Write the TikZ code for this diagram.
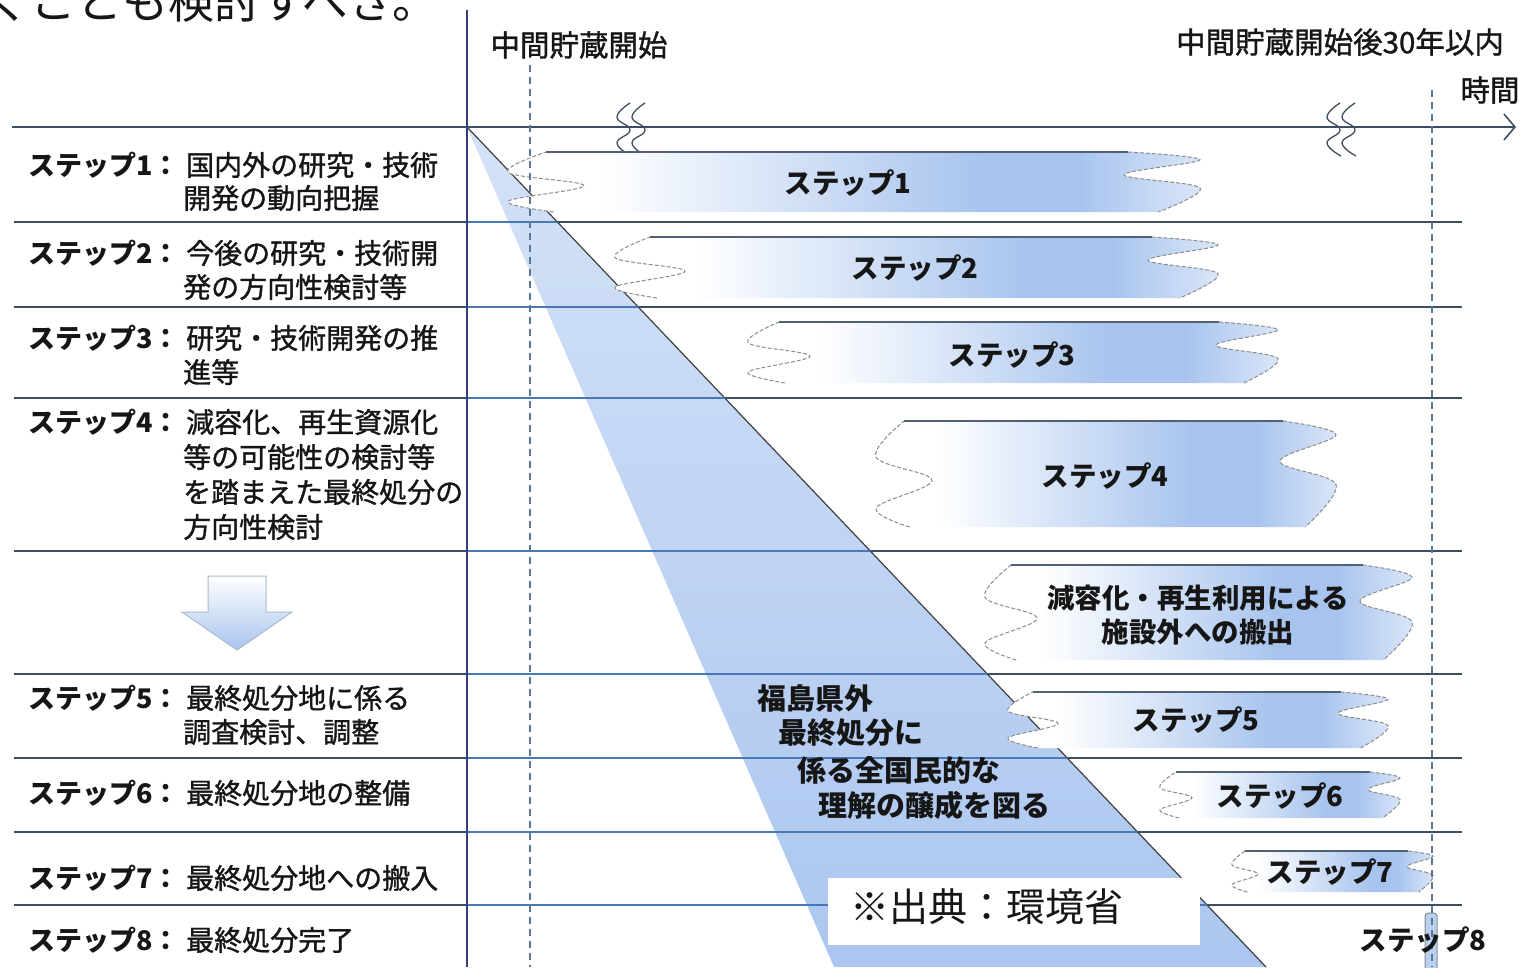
\documentclass[tikz,border=0pt]{standalone}
\usepackage{fontspec}
\newfontfamily\jp{Noto Sans CJK JP}
\newfontfamily\jpm{Noto Sans CJK JP}[FakeBold=1.2]
\usetikzlibrary{arrows.meta}
\definecolor{linec}{HTML}{3E4E62}
\definecolor{blueline}{HTML}{4A78B4}
\definecolor{dashc}{HTML}{5A7596}
\definecolor{barblue}{HTML}{A8C4EE}
\definecolor{barlite}{HTML}{DCE7F9}
\definecolor{tritop}{HTML}{D4E2F8}
\definecolor{tribot}{HTML}{ABC6EF}
\definecolor{txt}{HTML}{161616}
\pgfdeclarehorizontalshading{barshade}{100bp}{color(0bp)=(white); color(25bp)=(white); color(32bp)=(white); color(59bp)=(barblue); color(66bp)=(barblue); color(75bp)=(barlite); color(100bp)=(barlite)}
\tikzset{
  rowline/.style={draw=linec, line width=1.8pt},
  bluerow/.style={draw=blueline, line width=1.8pt},
  vdash/.style={draw=dashc, line width=1.2pt, dash pattern=on 7pt off 5pt},
  barline/.style={draw=linec!90, line width=1.6pt},
  bardash/.style={draw=black!45, line width=1pt, dash pattern=on 4pt off 2pt},
  lab/.style={font=\jp\bfseries\fontsize{27}{30}\selectfont, text=txt, inner sep=0pt, anchor=west},
  tri/.style={font=\jp\bfseries\fontsize{29}{32}\selectfont, text=txt, inner sep=0pt, anchor=west},
  desc/.style={font=\jpm\fontsize{28}{30}\selectfont, text=txt, inner sep=0pt, anchor=west},
  barlab/.style={font=\jp\bfseries\fontsize{27.5}{30}\selectfont, text=txt, inner sep=0pt},
  head/.style={font=\jpm\fontsize{29.5}{32}\selectfont, text=txt, inner sep=0pt},
  brk/.style={draw=linec, line width=1.3pt},
}
% #1 name, #2 xL, #3 xR, #4 top, #5 bottom, #6 wave depth
\newcommand\mkbar[6]{%
  \pgfmathsetmacro\bwH{#5-#4}%
  \pgfmathsetmacro\bwTL{#2+0.5*#6}%
  \pgfmathsetmacro\bwTR{#3-0.95*#6}%
  \pgfmathsetmacro\bwBR{#3-0.55*#6}%
  \pgfmathsetmacro\bwBL{#2+0.6*#6}%
  \pgfmathsetmacro\bwRA{#4+0.13*\bwH}%
  \pgfmathsetmacro\bwRN{#4+0.38*\bwH}%
  \pgfmathsetmacro\bwRB{#4+0.6*\bwH}%
  \pgfmathsetmacro\bwRNX{#3-#6}%
  \pgfmathsetmacro\bwLA{#4+0.34*\bwH}%
  \pgfmathsetmacro\bwLN{#4+0.56*\bwH}%
  \pgfmathsetmacro\bwLB{#4+0.82*\bwH}%
  \pgfmathsetmacro\bwLNX{#2+#6}%
  \shade[shading=barshade] (\bwTL,#4) -- (\bwTR,#4)
     -- plot[smooth,tension=0.6] coordinates {(\bwTR,#4) (#3,\bwRA) (\bwRNX,\bwRN) (#3,\bwRB) (\bwBR,#5)}
     -- (\bwBL,#5)
     -- plot[smooth,tension=0.6] coordinates {(\bwBL,#5) (#2,\bwLB) (\bwLNX,\bwLN) (#2,\bwLA) (\bwTL,#4)} -- cycle;
  \draw[barline] (\bwTL,#4) -- (\bwTR,#4);
  \draw[bardash] plot[smooth,tension=0.6] coordinates {(\bwTR,#4) (#3,\bwRA) (\bwRNX,\bwRN) (#3,\bwRB) (\bwBR,#5)};
  \draw[bardash] plot[smooth,tension=0.6] coordinates {(\bwBL,#5) (#2,\bwLB) (\bwLNX,\bwLN) (#2,\bwLA) (\bwTL,#4)};
  \coordinate (#1) at ({(#2+#3)/2},{(#4+#5)/2});
}
\begin{document}
\begin{tikzpicture}[x=1pt,y=-1pt]
\useasboundingbox (0,0) rectangle (1526,967);
\fill[white] (0,0) rectangle (1526,967);

% cut-off sentence at top
\node[font=\jp\fontsize{46}{50}\selectfont, text=txt, inner sep=0pt, anchor=base west] (topline) at (-16,18) {くことも検討すべき。};

% triangle
\shade[top color=tritop, bottom color=tribot] (467,127) -- (1266,967) -- (834,967) -- cycle;
\draw[draw=black!75, line width=1.2pt] (467,127) -- (1266,967);

% row lines (dark), blue where they cross the shaded wedge
\foreach \yy in {222,307,398,551,674,758,832,905} {
  \draw[rowline] (14,\yy) -- (1462,\yy);
  \pgfmathsetmacro\xd{467+(\yy-127)*0.951}
  \draw[bluerow] (467,\yy) -- (\xd,\yy);
}

% vertical axis line
\draw[draw=linec!80!blue, line width=1.6pt] (467,10) -- (467,967);

% time axis
\draw[draw=linec, line width=1.8pt, -{Straight Barb[length=11pt,width=26pt,line width=1.6pt]}] (12,127) -- (1516,127);

% break marks
\foreach \bx in {625,1335} {
  \foreach \o in {0,15} {
    \draw[brk] plot[smooth,tension=0.8] coordinates {({\bx+\o+5},103) ({\bx+\o-8},117) ({\bx+\o+5},130) ({\bx+\o-8},143) ({\bx+\o+6},156)};
  }
}

% step bars
\mkbar{b1}{508}{1200}{152}{212}{76}
\mkbar{b2}{615}{1218}{237}{298}{70}
\mkbar{b3}{748}{1278}{322}{383}{62}
\mkbar{b4}{876}{1336}{421}{527}{56}
\mkbar{b5}{985}{1412}{565}{660}{52}
\mkbar{b6}{1008}{1388}{692}{748}{50}
\mkbar{b7}{1160}{1400}{772}{818}{32}
\mkbar{b8}{1232}{1433}{851}{892}{26}

% step 8 small bar
\draw[fill=barblue!80, draw=black!45, line width=1pt, rounded corners=3pt] (1425,913) rectangle (1437,975);

% dashed verticals
\draw[vdash] (530,65) -- (530,967);
\draw[vdash] (1432,90) -- (1432,967);

% source box
\fill[white] (828,878) rectangle (1200,945);
\node[font=\jp\fontsize{39}{42}\selectfont, text=txt, inner sep=0pt, anchor=west] (src) at (850,907) {※出典：環境省};

% headers
\node[head] (h1) at (579,45) {中間貯蔵開始};
\node[head] (h2) at (1340,42) {中間貯蔵開始後30年以内};
\node[head] (h3) at (1490,90) {時間};

% bar labels
\node[barlab] (t1) at (848,183) {ステップ1};
\node[barlab] (t2) at (915,268) {ステップ2};
\node[barlab] (t3) at (1012,355) {ステップ3};
\node[barlab] (t4) at (1105,476) {ステップ4};
\node[barlab] (t5a) at (1198,598) {減容化・再生利用による};
\node[barlab] (t5b) at (1198,632) {施設外への搬出};
\node[barlab] (t6) at (1196,720) {ステップ5};
\node[barlab] (t7) at (1280,796) {ステップ6};
\node[barlab] (t8) at (1330,872) {ステップ7};
\node[barlab] (t9) at (1423,940) {ステップ8};

% triangle text
\node[tri] (f1) at (757,698) {福島県外};
\node[tri] (f2) at (778,733) {最終処分に};
\node[tri] (f3) at (797,770) {係る全国民的な};
\node[tri] (f4) at (818,805) {理解の醸成を図る};

% left labels
\node[lab] (s1) at (28,165) {ステップ1：};
\node[desc] (d1a) at (186,165) {国内外の研究・技術};
\node[desc] (d1b) at (183,198) {開発の動向把握};
\node[lab] (s2) at (28,253) {ステップ2：};
\node[desc] (d2a) at (186,253) {今後の研究・技術開};
\node[desc] (d2b) at (183,287) {発の方向性検討等};
\node[lab] (s3) at (28,338) {ステップ3：};
\node[desc] (d3a) at (186,338) {研究・技術開発の推};
\node[desc] (d3b) at (183,372) {進等};
\node[lab] (s4) at (28,422) {ステップ4：};
\node[desc] (d4a) at (186,422) {減容化、再生資源化};
\node[desc] (d4b) at (183,457) {等の可能性の検討等};
\node[desc] (d4c) at (183,492) {を踏まえた最終処分の};
\node[desc] (d4d) at (183,527) {方向性検討};
\node[lab] (s5) at (28,698) {ステップ5：};
\node[desc] (d5a) at (186,698) {最終処分地に係る};
\node[desc] (d5b) at (183,732) {調査検討、調整};
\node[lab] (s6) at (28,793) {ステップ6：};
\node[desc] (d6) at (186,793) {最終処分地の整備};
\node[lab] (s7) at (28,878) {ステップ7：};
\node[desc] (d7) at (186,878) {最終処分地への搬入};
\node[lab] (s8) at (28,940) {ステップ8：};
\node[desc] (d8) at (186,940) {最終処分完了};

% down arrow
\shade[top color=white, bottom color=barblue, draw=barblue!80!black!70, line width=1pt]
  (208,576) -- (266,576) -- (266,612) -- (292,612) -- (237,650) -- (182,612) -- (208,612) -- cycle;
\end{tikzpicture}
\end{document}
